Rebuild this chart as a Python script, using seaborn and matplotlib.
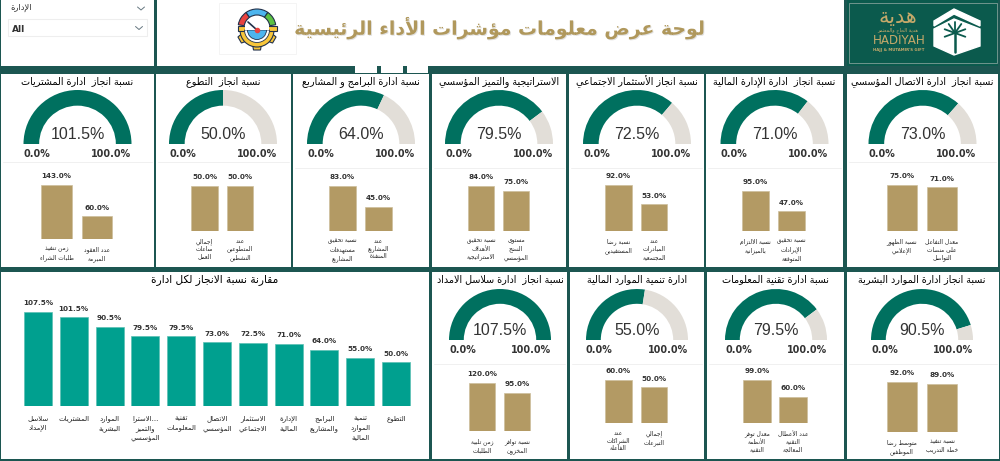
import numpy as np
import matplotlib
matplotlib.use("Agg")
import matplotlib.pyplot as plt
import matplotlib.patheffects as pe
from matplotlib.patches import Rectangle, Wedge, Polygon
import seaborn as sns

# -----------------------------
# Data
# -----------------------------
gauge_titles = [
    "نسبة انجاز  ادارة المشتريات", "نسبة انجاز  التطوع", "نسبة ادارة البرامج و المشاريع",
    "الاستراتيجية والتميز المؤسسي", "نسبة انجاز الأستثمار الاجتماعي",
    "نسبة انجاز  ادارة الإدارة المالية", "نسبة انجاز  ادارة الاتصال المؤسسي",
    "نسبة انجاز  ادارة سلاسل الامداد", "ادارة تنمية الموارد المالية",
    "نسبة ادارة تقنية المعلومات", "نسبة انجاز ادارة الموارد البشرية",
]
gauge_values = [101.5, 50.0, 64.0, 79.5, 72.5, 71.0, 73.0, 107.5, 55.0, 79.5, 90.5]

kpi_labels = [
    ["زمن تنفيذ\nطلبات الشراء", "عدد العقود\nالمبرمة"],
    ["إجمالي\nساعات\nالعمل", "عدد\nالمتطوعين\nالنشطين"],
    ["نسبة تحقيق\nمستهدفات\nالمشاريع", "عدد\nالمشاريع\nالمنفذة"],
    ["نسبة تحقيق\nالأهداف\nالاستراتيجية", "مستوى\nالنضج\nالمؤسسي"],
    ["نسبة رضا\nالمستفيدين", "عدد\nالمبادرات\nالمجتمعية"],
    ["نسبة الالتزام\nبالميزانية", "نسبة تحقيق\nالإيرادات\nالمتوقعة"],
    ["نسبة الظهور\nالإعلامي", "معدل التفاعل\nعلى منصات\nالتواصل"],
    ["زمن تلبية\nالطلبات", "نسبة توافر\nالمخزون"],
    ["عدد\nالشراكات\nالفاعلة", "إجمالي\nالتبرعات"],
    ["معدل توفر\nالأنظمة\nالتقنية", "عدد الأعطال\nالتقنية\nالمعالجة"],
    ["متوسط رضا\nالموظفين", "نسبة تنفيذ\nخطة التدريب"],
]
kpi_values = [
    [143.0, 60.0], [50.0, 50.0], [83.0, 45.0], [84.0, 75.0], [92.0, 53.0], [95.0, 47.0],
    [75.0, 71.0], [120.0, 95.0], [60.0, 50.0], [99.0, 60.0], [92.0, 89.0],
]

compare_title = "مقارنة نسبة الانجاز لكل ادارة"
compare_labels = [
    "سلاسل\nالإمداد", "المشتريات", "الموارد\nالبشرية", "...الاسترا\nوالتميز\nالمؤسسي",
    "تقنية\nالمعلومات", "الاتصال\nالمؤسسي", "الاستثمار\nالاجتماعي", "الإدارة\nالمالية",
    "البرامج\nوالمشاريع", "تنمية\nالموارد\nالمالية", "التطوع",
]
compare_values = [107.5, 101.5, 90.5, 79.5, 79.5, 73.0, 72.5, 71.0, 64.0, 55.0, 50.0]

header_title = "لوحة عرض معلومات مؤشرات الأداء الرئيسية"
slicer_title = "الإدارة"

# -----------------------------
# Layout in reference pixels
# panel box, gauge centre x, base y, radius, divider y,
# bar area (left centre, right centre, top of tallest, baseline)
# -----------------------------
W, H = 1000, 461
panels = [
    ((1, 74, 154, 267), 77.5, 144, 54, 162, (56.5, 97, 185, 239)),
    ((156, 74, 291, 267), 223, 144, 54, 162, (204.5, 240, 186, 231)),
    ((293, 74, 429, 267), 361, 144, 54, 168, (342.5, 378.5, 186, 231)),
    ((432, 74, 566, 267), 499, 144, 54, 168, (481, 516, 186, 231)),
    ((569, 74, 704, 267), 637, 144, 54, 168, (618.5, 654, 185, 231)),
    ((706, 74, 843, 267), 774.5, 144, 54, 168, (755.5, 791.5, 191, 231)),
    ((847, 74, 998, 267), 922.5, 144, 54, 162, (902, 942, 185, 231)),
    ((432, 272, 567, 459), 500, 340, 51, 364, (482, 517, 383, 431)),
    ((570, 272, 704, 459), 637, 340, 51, 364, (618.5, 654, 380, 423)),
    ((707, 272, 844, 459), 776, 340, 51, 364, (757, 793, 380, 423)),
    ((847, 272, 999, 459), 922, 340, 51, 364, (902, 942, 382, 432)),
]

FRAME = "#1c5651"
GAUGE = "#00705f"
GAUGE_REST = "#e2ded8"
GOLD = "#b39a64"
TEAL = "#00a08f"
TITLE_GOLD = "#b0985c"

# -----------------------------
# matplotlib does not join Arabic letters, so pick the
# presentation forms here and write the line in visual order
# -----------------------------
FORMS = {}
for ch, start, n in [
    ("ء", 0xFE80, 1), ("آ", 0xFE81, 2), ("أ", 0xFE83, 2), ("ؤ", 0xFE85, 2), ("إ", 0xFE87, 2),
    ("ئ", 0xFE89, 4), ("ا", 0xFE8D, 2), ("ب", 0xFE8F, 4), ("ة", 0xFE93, 2), ("ت", 0xFE95, 4),
    ("ث", 0xFE99, 4), ("ج", 0xFE9D, 4), ("ح", 0xFEA1, 4), ("خ", 0xFEA5, 4), ("د", 0xFEA9, 2),
    ("ذ", 0xFEAB, 2), ("ر", 0xFEAD, 2), ("ز", 0xFEAF, 2), ("س", 0xFEB1, 4), ("ش", 0xFEB5, 4),
    ("ص", 0xFEB9, 4), ("ض", 0xFEBD, 4), ("ط", 0xFEC1, 4), ("ظ", 0xFEC5, 4), ("ع", 0xFEC9, 4),
    ("غ", 0xFECD, 4), ("ف", 0xFED1, 4), ("ق", 0xFED5, 4), ("ك", 0xFED9, 4), ("ل", 0xFEDD, 4),
    ("م", 0xFEE1, 4), ("ن", 0xFEE5, 4), ("ه", 0xFEE9, 4), ("و", 0xFEED, 2), ("ى", 0xFEEF, 2),
    ("ي", 0xFEF1, 4),
]:
    FORMS[ch] = (start, n)
LAM_ALEF = {"آ": 0xFEF5, "أ": 0xFEF7, "إ": 0xFEF9, "ا": 0xFEFB}


def shape_line(line):
    out = []
    i = 0
    prev_joins = False
    while i < len(line):
        ch = line[i]
        if ch not in FORMS:
            out.append(ch)
            prev_joins = False
            i += 1
            continue
        if ch == "ل" and i + 1 < len(line) and line[i + 1] in LAM_ALEF:
            out.append(chr(LAM_ALEF[line[i + 1]] + (1 if prev_joins else 0)))
            prev_joins = False
            i += 2
            continue
        start, n = FORMS[ch]
        nxt = line[i + 1] if i + 1 < len(line) else ""
        next_joins = n == 4 and nxt in FORMS and FORMS[nxt][1] > 1
        if n == 1:
            form = 0
        elif prev_joins and next_joins:
            form = 3
        elif next_joins:
            form = 2
        elif prev_joins:
            form = 1
        else:
            form = 0
        out.append(chr(start + form))
        prev_joins = n == 4
        i += 1
    return "".join(reversed(out))


def ar(text):
    return "\n".join(shape_line(part) for part in text.split("\n"))


def px_axes(left, top, right, bottom):
    return fig.add_axes([left / W, 1 - bottom / H, (right - left) / W, (bottom - top) / H], facecolor="none")


def draw_bars(ax, labels, values, color, tick_size, width, pad, spacing):
    shaped = [ar(t) for t in labels]
    sns.barplot(x=shaped, y=values, ax=ax, color=color, width=width, saturation=1,
                edgecolor="#cdbf9c" if color == GOLD else "#5cc0b4", linewidth=0.5)
    ax.set_ylim(0, max(values))
    ax.bar_label(ax.containers[0], fmt="%.1f%%", padding=4, fontsize=5.2,
                 fontweight="bold", color="#333333")
    ax.set_yticks([])
    ax.set_xlabel("")
    ax.set_ylabel("")
    ax.tick_params(axis="x", length=0, pad=pad)
    for tick in ax.get_xticklabels():
        tick.set_fontsize(tick_size)
        tick.set_color("#222222")
        tick.set_linespacing(spacing)
        tick.set_verticalalignment("top")
    sns.despine(ax=ax, left=True, bottom=True)


# -----------------------------
# Figure and frame
# -----------------------------
sns.set_theme(style="white")
plt.rcParams["font.family"] = ["DejaVu Sans"]

fig = plt.figure(figsize=(W / 100, H / 100), dpi=100, facecolor=FRAME)
bg = fig.add_axes([0, 0, 1, 1], facecolor=FRAME)
bg.set_xlim(0, W)
bg.set_ylim(H, 0)
bg.axis("off")


def box(x0, y0, x1, y1, color="white", **kw):
    bg.add_patch(Rectangle((x0, y0), x1 - x0, y1 - y0, facecolor=color, edgecolor=kw.pop("edge", "none"),
                           linewidth=kw.pop("lw", 0), **kw))


# header boxes
box(1, 0, 154, 66)
box(157, 0, 844, 66)
box(847, 0, 998, 66, color="#0b5a4d")
box(848.5, 3, 997, 63, color="#0b5a4d", edge="#7f9f98", lw=0.6)
box(355, 66, 377, 73)
box(381, 66, 403, 73)
box(407, 66, 428, 73)

# slicer
bg.text(10, 8, ar(slicer_title), fontsize=6, color="#333333", ha="left", va="center")
box(8, 19, 147, 36.5, edge="#eeeeee", lw=0.8)
bg.text(12, 29, "All", fontsize=6.5, fontweight="bold", color="#333333", ha="left", va="center")
bg.plot([137.5, 141, 144.5], [7, 10, 7], color="#667780", lw=0.7)
bg.plot([135.5, 139, 142.5], [26.5, 29.5, 26.5], color="#667780", lw=0.7)

# header title
bg.text(500.5, 28, ar(header_title), fontsize=13.6, fontweight="bold", color=TITLE_GOLD, ha="center", va="center",
        path_effects=[pe.withSimplePatchShadow(offset=(0.7, -0.7), shadow_rgbFace="#aaaaaa", alpha=0.35)])

# gauge icon, visual angles are mirrored because y is flipped here
box(219, 3, 296, 54, edge="#f2f2f2", lw=0.6)
for a0, a1, c in [(190, 235, "#e8433f"), (235, 305, "#4db5ee"), (305, 350, "#5cc142")]:
    bg.add_patch(Wedge((257, 28), 19, a0, a1, width=6, facecolor=c, edgecolor="#22314a", linewidth=0.8))
for ang in np.radians([30, 90, 150]):
    ux, uy = np.cos(ang), np.sin(ang)
    vx, vy = -uy, ux
    pts = [(257 + ux * r + vx * s, 30 + uy * r + vy * s) for r, s in [(14, 4.5), (20, 3.5), (20, -3.5), (14, -4.5)]]
    bg.add_patch(Polygon(pts, facecolor="#f8c63a", edgecolor="#22314a", linewidth=0.8))
bg.add_patch(Wedge((257, 30), 17, 0, 180, facecolor="#f8c63a", edgecolor="#22314a", linewidth=0.8))
bg.add_patch(Rectangle((237.5, 26), 39, 5, facecolor="#f8c63a", edgecolor="#22314a", linewidth=0.8))
bg.add_patch(Wedge((257, 30), 12.5, 0, 180, facecolor="white", edgecolor="#22314a", linewidth=0.6))
bg.add_patch(Wedge((257, 30), 9.5, 0, 180, facecolor="#4db5ee", edgecolor="#22314a", linewidth=0.6))
bg.add_patch(Rectangle((245, 25), 24, 5, facecolor="white", edgecolor="none"))
bg.plot([248, 257], [22, 30], color="#22314a", lw=1.2)
bg.plot([257], [30], "o", color="#e8433f", ms=3)

# logo
bg.text(898, 17, ar("هدية"), fontsize=15, color="#c5a96a", ha="center", va="center")
bg.text(898, 30, ar("هدية الحاج والمعتمر"), fontsize=3.6, color="#c5a96a", ha="center", va="center")
bg.text(899, 40, "HADIYAH", fontsize=8.6, color="#c5a96a", ha="center", va="center")
bg.text(899, 49.5, "HAJJ & MUTAMIR'S GIFT", fontsize=2.8, fontweight="bold", color="#c5a96a", ha="center", va="center")
bg.add_patch(Polygon([(934, 21), (954, 9), (980, 21), (980, 26), (954, 14), (934, 26)], facecolor="white"))
bg.add_patch(Polygon([(934, 29), (954, 19), (980, 29), (980, 46), (954, 55), (934, 46)], facecolor="white"))
for ang in np.radians([200, 235, 270, 305, 340, 20, 160]):
    bg.plot([955, 955 + 11 * np.cos(ang)], [33, 33 + 11 * np.sin(ang)], color="#0b5a4d", lw=1.3)
bg.plot([955, 955], [33, 52], color="#0b5a4d", lw=1.8)

# -----------------------------
# Gauge panels
# -----------------------------
for i, (pbox, cx, base, r, div, bars) in enumerate(panels):
    x0, y0, x1, y1 = pbox
    box(x0, y0, x1, y1)
    bg.plot([x0 + 2, x1 - 2], [div, div], color="#f0f0f0", lw=0.7)
    bg.text(cx, y0 + 7.5, ar(gauge_titles[i]), fontsize=6.9, color="#000000", ha="center", va="center")

    val = gauge_values[i]
    filled = min(val, 100)
    gax = px_axes(cx - r, base - r, cx + r, base)
    gax.pie([filled, 100 - filled, 100], colors=[GAUGE, GAUGE_REST, "none"], startangle=180, counterclock=False,
            radius=1, wedgeprops=dict(width=0.29, linewidth=0))
    gax.set_xlim(-1, 1)
    gax.set_ylim(0, 1)

    bg.text(cx, base - 9.5, f"{val:.1f}%", fontsize=11.5, color="#333333", ha="center", va="center",
            family="Liberation Sans")
    bg.text(cx - r, base + 10, "0.0%", fontsize=6.9, fontweight="bold", color="#333333", ha="left", va="center")
    bg.text(cx + r, base + 10, "100.0%", fontsize=6.9, fontweight="bold", color="#333333", ha="right", va="center")

    c0, c1, top, baseline = bars
    half = (c1 - c0) / 2
    bax = px_axes(c0 - half, top, c1 + half, baseline)
    draw_bars(bax, kpi_labels[i], kpi_values[i], GOLD, 4.2, 0.76, 5.5, 1.4)

# -----------------------------
# Comparison chart
# -----------------------------
box(1, 272, 429, 459)
bg.text(215, 280, ar(compare_title), fontsize=7.6, color="#000000", ha="center", va="center")
cax = px_axes(20, 312, 414, 406)
draw_bars(cax, compare_labels, compare_values, TEAL, 5.0, 0.78, 6.5, 1.6)

fig.savefig("out.png", dpi=100, facecolor=FRAME)
